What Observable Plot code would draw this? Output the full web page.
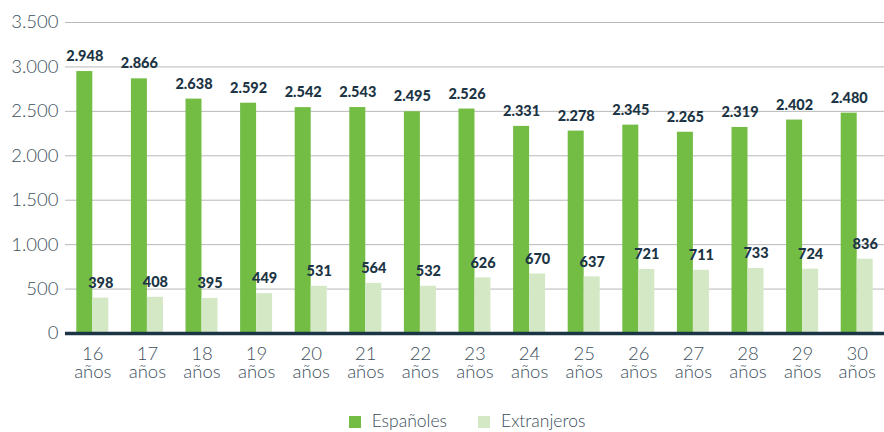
<!DOCTYPE html>
<html>
<head>
<meta charset="utf-8">
<script src="https://cdn.jsdelivr.net/npm/d3@7"></script>
<script src="https://cdn.jsdelivr.net/npm/@observablehq/plot@0.6"></script>
<style>
  body { margin: 0; background: #fff; font-family: Lato, "Open Sans", sans-serif; }
  #legend { display: flex; justify-content: center; padding-left: 50px; gap: 31px; font-size: 17.5px; font-weight: 300; color: #3a4d5a; height: 28px; align-items: center; margin-top: 7px; line-height: 1; }
  #legend span.sw { display: inline-block; width: 12px; height: 12px; margin-right: 11px; vertical-align: -1px; }
</style>
</head>
<body>
<div id="chart"></div>
<div id="legend"></div>
<script>
const ages = ["16","17","18","19","20","21","22","23","24","25","26","27","28","29","30"];
const espanoles = [2948, 2866, 2638, 2592, 2542, 2543, 2495, 2526, 2331, 2278, 2345, 2265, 2319, 2402, 2480];
const extranjeros = [398, 408, 395, 449, 531, 564, 532, 626, 670, 637, 721, 711, 733, 724, 836];
const series = ["Españoles", "Extranjeros"];
const colors = ["#74bd44", "#d4e8c6"];
const yTicks = [0, 500, 1000, 1500, 2000, 2500, 3000, 3500];

const locale = d3.formatLocale({decimal: ",", thousands: ".", grouping: [3], currency: ["", "€"]});
const fmt = locale.format(",d");

const dataE = ages.map((a, i) => ({age: a, value: espanoles[i]}));
const dataX = ages.map((a, i) => ({age: a, value: extranjeros[i]}));

const half = 16;
const plot = Plot.plot({
  width: 884,
  height: 400,
  marginLeft: 65,
  marginRight: 0,
  marginTop: 22,
  marginBottom: 67,
  style: {fontFamily: "Lato, 'Open Sans', sans-serif", background: "#fff"},
  x: {domain: ages, paddingInner: 0.414, paddingOuter: 0.207, round: false, label: null},
  y: {domain: [0, 3500], label: null},
  marks: [
    Plot.gridY(yTicks, {stroke: "#b8b8b8", strokeOpacity: 1, strokeWidth: 1}),
    Plot.axisY(yTicks, {tickSize: 0, tickPadding: 7, fontSize: 18.5, fontWeight: 300, fill: "#3d4f5c", tickFormat: d => fmt(d), label: null}),
    Plot.barY(dataE, {x: "age", y: "value", fill: colors[0], insetRight: half}),
    Plot.barY(dataX, {x: "age", y: "value", fill: colors[1], insetLeft: half}),
    Plot.text(dataE, {x: "age", y: "value", text: d => fmt(d.value), dx: -half / 2, dy: -15, fontSize: 14.5, fontWeight: 900, fill: "#1c3444"}),
    Plot.text(dataX, {x: "age", y: "value", text: d => fmt(d.value), dx: half / 2, dy: -15, fontSize: 14.5, fontWeight: 900, fill: "#1c3444"}),
    Plot.ruleY([0], {stroke: "#1b3544", strokeWidth: 3.5}),
    Plot.axisX({tickSize: 0, tickPadding: 13, fontSize: 18.5, fontWeight: 300, fill: "#3d4f5c", lineHeight: 1.0, tickFormat: d => `${d}\naños`, label: null})
  ]
});
document.getElementById("chart").appendChild(plot);

const legend = document.getElementById("legend");
series.forEach((s, i) => {
  const item = document.createElement("div");
  item.innerHTML = `<span class="sw" style="background:${colors[i]}"></span>${s}`;
  legend.appendChild(item);
});
</script>
</body>
</html>
